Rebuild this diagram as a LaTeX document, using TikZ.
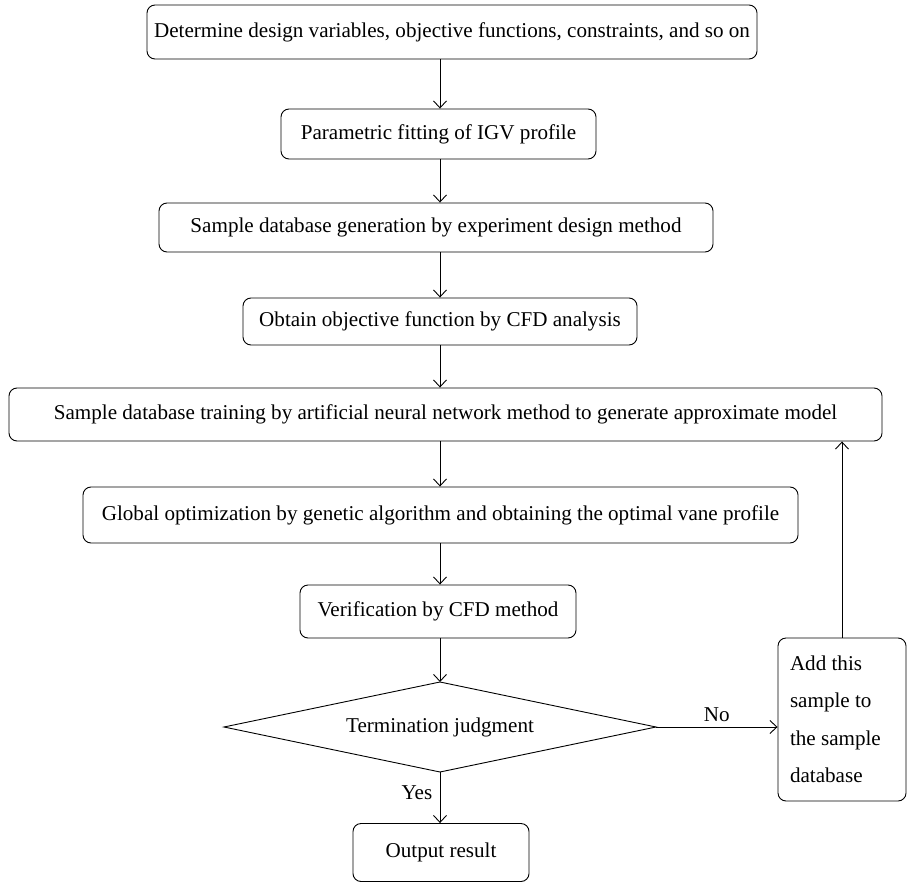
\documentclass[tikz,border=0pt]{standalone}
\usepackage{fontspec}
\setmainfont{Liberation Serif}
\usetikzlibrary{arrows.meta,shapes.geometric}

\begin{document}
\begin{tikzpicture}[x=1pt,y=-1pt,
    font=\fontsize{21.1}{37.5}\selectfont,
    line width=0.9pt,
    stepbox/.style={draw, rounded corners=8pt, inner sep=0pt, align=center},
    flow/.style={-{Straight Barb[length=7pt,width=13pt,line width=0.9pt]}}]
  \useasboundingbox (0,0) rectangle (912,885);
  % main column
  \node[stepbox, minimum width=610, minimum height=54] (define) at (452,32)
    {Determine design variables, objective functions, constraints, and so on};
  \node[stepbox, minimum width=315, minimum height=50] (fit) at (438.5,134)
    {Parametric fitting of IGV profile};
  \node[stepbox, minimum width=554, minimum height=49] (sample) at (436,227.5)
    {Sample database generation by experiment design method};
  \node[stepbox, minimum width=394, minimum height=47] (cfd) at (440,321.5)
    {Obtain objective function by CFD analysis};
  \node[stepbox, minimum width=873, minimum height=53] (train) at (445.5,414.5)
    {Sample database training by artificial neural network method to generate approximate model};
  \node[stepbox, minimum width=715, minimum height=56] (optim) at (440.5,515)
    {Global optimization by genetic algorithm and obtaining the optimal vane profile};
  \node[stepbox, minimum width=276, minimum height=53] (verify) at (438,611.5)
    {Verification by CFD method};
  \draw (440,682) coordinate (judge-n) -- (656,727) coordinate (judge-e)
    -- (440,772) coordinate (judge-s) -- (224,727) coordinate (judge-w) -- cycle;
  \node (judge) at (440,727) {Termination judgment};
  \node[stepbox, minimum width=176, minimum height=58] (output) at (441,852.5)
    {Output result};
  % loop back
  \node[stepbox, minimum height=163, text width=104, inner xsep=12pt, align=flush left] (add) at (842,719.5)
    {Add this\\sample to\\the sample\\database};
  % connectors
  \draw[flow] (define.south -| judge) -- (fit.north -| judge);
  \draw[flow] (fit.south -| judge) -- (sample.north -| judge);
  \draw[flow] (sample.south -| judge) -- (cfd.north -| judge);
  \draw[flow] (cfd.south -| judge) -- (train.north -| judge);
  \draw[flow] (train.south -| judge) -- (optim.north -| judge);
  \draw[flow] (optim.south -| judge) -- (verify.north -| judge);
  \draw[flow] (verify.south -| judge) -- (judge-n);
  \draw[flow] (judge-s) -- node[left=4pt, pos=0.4] {Yes} (output.north -| judge);
  \draw[flow] (judge-e) -- node[above=2pt] {No} (judge-e -| add.west);
  \draw[flow] (add.north) -- (add.north |- train.south);
\end{tikzpicture}
\end{document}
